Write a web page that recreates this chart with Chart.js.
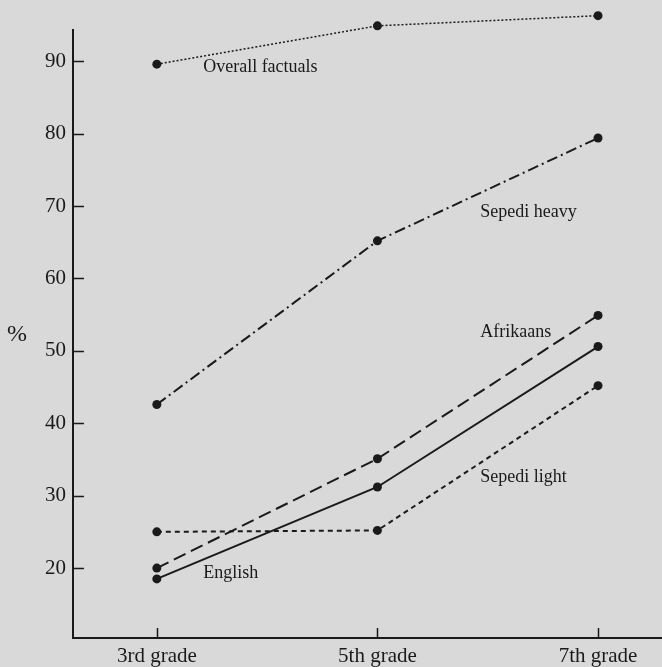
<!DOCTYPE html>
<html>
<head>
<meta charset="utf-8">
<script src="https://cdn.jsdelivr.net/npm/chart.js@4/dist/chart.umd.min.js"></script>
<style>
  html, body { margin: 0; padding: 0; background: #d9d9d9; }
  #wrap { width: 662px; height: 667px; }
</style>
</head>
<body>
<div id="wrap"><canvas id="c" width="662" height="667"></canvas></div>
<script>
// ---- data ----
const grades = ["3rd grade", "5th grade", "7th grade"];
const yTickValues = [20, 30, 40, 50, 60, 70, 80, 90];
const overallFactuals = [89.6, 94.9, 96.3];
const sepediHeavy = [42.6, 65.2, 79.4];
const afrikaans = [20.0, 35.1, 54.9];
const english = [18.5, 31.2, 50.6];
const sepediLight = [25.0, 25.2, 45.2];
const seriesNames = ["Overall factuals", "Sepedi heavy", "Afrikaans", "English", "Sepedi light"];
// label anchors in data units (x = grade index, y = %)
const labelX = [0.21, 1.466, 1.466, 0.21, 1.466];
const labelY = [89.2, 69.2, 52.6, 19.35, 32.6];
const yAxisLineTop = 94.46;   // the drawn y axis stops here

const INK = '#1a1a1a';
const FONT = "'Liberation Serif', 'DejaVu Serif', 'Times New Roman', serif";

function toXY(arr) { return arr.map((v, i) => ({ x: i, y: v })); }

function ds(label, values, dash, width) {
  return {
    label: label,
    data: toXY(values),
    borderColor: INK,
    backgroundColor: INK,
    borderWidth: width,
    borderDash: dash,
    pointRadius: 4.5,
    pointBackgroundColor: INK,
    pointBorderWidth: 0,
    pointHoverRadius: 4.5,
    tension: 0,
    fill: false,
    clip: false
  };
}

const bgPlugin = {
  id: 'bg',
  beforeDraw(chart) {
    const ctx = chart.ctx;
    ctx.save();
    ctx.fillStyle = '#d9d9d9';
    ctx.fillRect(0, 0, chart.width, chart.height);
    ctx.restore();
  }
};

const decoPlugin = {
  id: 'deco',
  afterDraw(chart) {
    const ctx = chart.ctx;
    const xs = chart.scales.x, ys = chart.scales.y;
    const area = chart.chartArea;
    ctx.save();
    ctx.strokeStyle = INK;
    // y axis line
    ctx.lineWidth = 2;
    ctx.beginPath();
    ctx.moveTo(area.left, ys.getPixelForValue(yAxisLineTop));
    ctx.lineTo(area.left, area.bottom + 1);
    ctx.stroke();
    ctx.lineWidth = 1.5;
    // inward tick marks
    ys.ticks.forEach(t => {
      const py = Math.round(ys.getPixelForValue(t.value)) + 0.5;
      ctx.beginPath();
      ctx.moveTo(area.left, py);
      ctx.lineTo(area.left + 11, py);
      ctx.stroke();
    });
    xs.ticks.forEach(t => {
      const px = Math.round(xs.getPixelForValue(t.value)) + 0.5;
      ctx.beginPath();
      ctx.moveTo(px, area.bottom);
      ctx.lineTo(px, area.bottom - 10);
      ctx.stroke();
    });
    // series labels
    ctx.fillStyle = INK;
    ctx.font = "18px " + FONT;
    ctx.textAlign = 'left';
    ctx.textBaseline = 'middle';
    seriesNames.forEach((n, i) => {
      ctx.fillText(n, xs.getPixelForValue(labelX[i]), ys.getPixelForValue(labelY[i]));
    });
    // y axis title
    ctx.font = "24px " + FONT;
    ctx.textAlign = 'center';
    ctx.fillText('%', 17, ys.getPixelForValue(52.2));
    ctx.restore();
  }
};

new Chart(document.getElementById('c'), {
  type: 'line',
  data: {
    datasets: [
      ds(seriesNames[0], overallFactuals, [2, 2], 1.5),
      ds(seriesNames[1], sepediHeavy, [11, 4, 2, 4], 2),
      ds(seriesNames[2], afrikaans, [13, 6], 2),
      ds(seriesNames[3], english, [], 2),
      ds(seriesNames[4], sepediLight, [5, 4], 2)
    ]
  },
  options: {
    responsive: false,
    animation: false,
    events: [],
    layout: { padding: { top: 7, right: 0, left: 0, bottom: 0 }, autoPadding: false },
    plugins: { legend: { display: false }, tooltip: { enabled: false } },
    scales: {
      x: {
        type: 'linear',
        min: -0.38,
        max: 2.29,
        afterBuildTicks(scale) { scale.ticks = grades.map((g, i) => ({ value: i })); },
        afterFit(scale) { scale.height = 29; scale.paddingLeft = 0; scale.paddingRight = 0; },
        grid: { display: true, drawOnChartArea: false, drawTicks: false },
        border: { display: true, color: INK, width: 2 },
        ticks: {
          color: INK,
          font: { family: FONT, size: 21 },
          padding: 6,
          maxRotation: 0,
          autoSkip: false,
          callback: (v) => grades[v]
        }
      },
      y: {
        type: 'linear',
        min: 10.34,
        max: 97.5,
        afterBuildTicks(scale) { scale.ticks = yTickValues.map(v => ({ value: v })); },
        afterFit(scale) { scale.width = 73; scale.paddingTop = 0; scale.paddingBottom = 0; },
        grid: { display: true, drawOnChartArea: false, drawTicks: false },
        border: { display: false },
        ticks: {
          color: INK,
          font: { family: FONT, size: 21 },
          padding: 7,
          autoSkip: false
        }
      }
    }
  },
  plugins: [bgPlugin, decoPlugin]
});
</script>
</body>
</html>
